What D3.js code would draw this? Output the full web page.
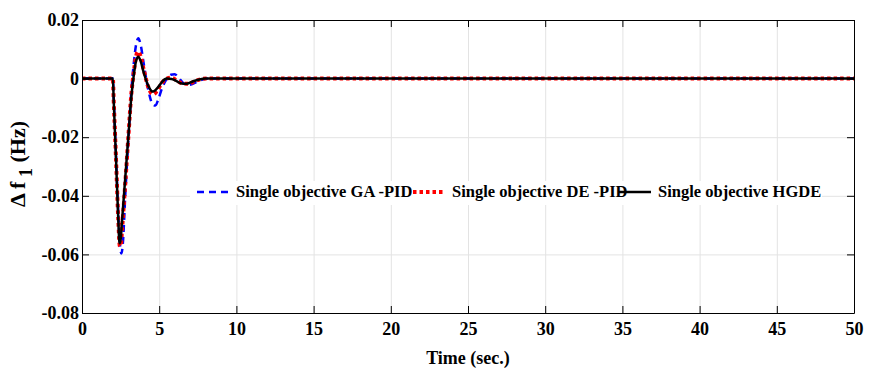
<!DOCTYPE html>
<html>
<head>
<meta charset="utf-8">
<script src="https://cdn.jsdelivr.net/npm/d3@7"></script>
<style>
  body { margin: 0; background: #fff; }
  svg text { font-family: 'Liberation Serif', 'Times New Roman', serif; font-weight: bold; }
</style>
</head>
<body>
<div id="chart"></div>
<script>
(function () {
  'use strict';

  var W = 869, H = 369,
      margin = {top: 20, right: 15, bottom: 56, left: 82},
      w = W - margin.left - margin.right,
      h = H - margin.top - margin.bottom,
      serif = "'Liberation Serif', 'Times New Roman', serif";

  var xTicks = [0, 5, 10, 15, 20, 25, 30, 35, 40, 45, 50];
  var yTicks = [0.02, 0, -0.02, -0.04, -0.06, -0.08];

  // GA-PID
  var tGA = [0, 2.0, 2.05, 2.2, 2.35, 2.45, 2.55, 2.65, 2.8, 3.0, 3.2, 3.35, 3.5, 3.65, 3.8, 4.0, 4.3, 4.55, 4.75, 4.95, 5.2, 5.5, 5.75, 6.0, 6.3, 6.6, 7.0, 7.4, 7.8, 8.2, 50];
  var vGA = [0, 0, -0.006, -0.026, -0.046, -0.056, -0.0597, -0.056, -0.040, -0.021, -0.004, 0.005, 0.0115, 0.0138, 0.0115, 0.005, -0.004, -0.0085, -0.0092, -0.007, -0.003, 0.0, 0.0013, 0.0015, 0.0, -0.0017, -0.0021, -0.0012, -0.0003, 0, 0];

  // DE-PID
  var tDE = [0, 2.0, 2.05, 2.2, 2.35, 2.45, 2.52, 2.6, 2.8, 3.0, 3.2, 3.35, 3.5, 3.62, 3.8, 4.0, 4.3, 4.5, 4.65, 4.85, 5.2, 5.5, 5.8, 6.1, 6.5, 6.9, 7.3, 7.7, 8.1, 50];
  var vDE = [0, 0, -0.007, -0.027, -0.048, -0.0572, -0.0565, -0.051, -0.036, -0.020, -0.005, 0.002, 0.0075, 0.0092, 0.0075, 0.003, -0.003, -0.005, -0.0053, -0.0042, -0.0013, 0.0, 0.0003, -0.0005, -0.0016, -0.0018, -0.0009, -0.0002, 0, 0];

  // HGDE
  var tHG = [0, 2.0, 2.05, 2.2, 2.35, 2.43, 2.5, 2.6, 2.8, 3.0, 3.2, 3.35, 3.5, 3.65, 3.8, 4.0, 4.3, 4.5, 4.6, 4.75, 4.95, 5.2, 5.5, 5.8, 6.1, 6.45, 6.75, 7.2, 7.6, 8.0, 50];
  var vHG = [0, 0, -0.007, -0.027, -0.048, -0.0562, -0.055, -0.048, -0.034, -0.020, -0.006, 0.001, 0.006, 0.0075, 0.006, 0.002, -0.0025, -0.0042, -0.0044, -0.0040, -0.0028, -0.001, 0.0, -0.0001, -0.0008, -0.0017, -0.0018, -0.0009, -0.0003, 0, 0];

  var seriesNames = ['Single objective GA -PID', 'Single objective DE -PID', 'Single objective HGDE'];

  var series = [
    {name: seriesNames[0], t: tGA, v: vGA, color: '#0000ff', width: 2.5, dash: '7,5'},
    {name: seriesNames[1], t: tDE, v: vDE, color: '#ff0000', width: 4, dash: '3.5,3'},
    {name: seriesNames[2], t: tHG, v: vHG, color: '#000000', width: 2.5, dash: null}
  ];

  var svg = d3.select('#chart').append('svg')
    .attr('width', W).attr('height', H);

  var g = svg.append('g')
    .attr('transform', 'translate(' + margin.left + ',' + margin.top + ')');

  var x = d3.scaleLinear().domain([0, 50]).range([0, w]);
  var y = d3.scaleLinear().domain([-0.08, 0.02]).range([h, 0]);

  var fmtY = function (d) {
    return d === 0 ? '0' : d3.format('.2f')(d).replace('\u2212', '-');
  };

  // grid
  var grid = g.append('g');
  grid.append('g')
    .attr('transform', 'translate(0,' + h + ')')
    .call(d3.axisBottom(x).tickValues(xTicks).tickSize(-h).tickFormat(''));
  grid.append('g')
    .call(d3.axisLeft(y).tickValues(yTicks).tickSize(-w).tickFormat(''));
  grid.selectAll('line').attr('stroke', '#e3e3e3').attr('stroke-width', 1);
  grid.selectAll('.domain').remove();

  // lines
  var line = d3.line()
    .x(function (d) { return x(d[0]); })
    .y(function (d) { return y(d[1]); })
    .curve(d3.curveMonotoneX);

  series.forEach(function (s) {
    g.append('path')
      .datum(d3.zip(s.t, s.v))
      .attr('d', line)
      .attr('fill', 'none')
      .attr('stroke', s.color)
      .attr('stroke-width', s.width)
      .attr('stroke-dasharray', s.dash);
  });

  // axes
  var tk = 7;
  var axes = g.append('g');
  axes.append('g')
    .attr('transform', 'translate(0,' + h + ')')
    .call(d3.axisBottom(x).tickValues(xTicks).tickSizeInner(-tk).tickSizeOuter(0).tickPadding(9));
  axes.append('g')
    .call(d3.axisLeft(y).tickValues(yTicks).tickFormat(fmtY).tickSizeInner(-tk).tickSizeOuter(0).tickPadding(3));
  axes.append('g')
    .call(d3.axisTop(x).tickValues(xTicks).tickSizeInner(-tk).tickSizeOuter(0).tickFormat(''));
  axes.append('g')
    .attr('transform', 'translate(' + w + ',0)')
    .call(d3.axisRight(y).tickValues(yTicks).tickSizeInner(-tk).tickSizeOuter(0).tickFormat(''));

  axes.selectAll('.domain, .tick line').attr('stroke', '#000').attr('stroke-width', 1);
  axes.selectAll('.tick text')
    .style('font-family', serif).style('font-weight', 'bold')
    .attr('font-size', 18).attr('fill', '#000');

  // axis labels
  svg.append('text')
    .attr('x', margin.left + w / 2).attr('y', 364)
    .attr('text-anchor', 'middle').attr('font-size', 18)
    .style('font-family', serif)
    .text('Time (sec.)');

  var yl = svg.append('text')
    .attr('transform', 'translate(25,164) rotate(-90)')
    .attr('text-anchor', 'middle').attr('font-size', 22)
    .style('font-family', serif);
  yl.append('tspan').text('\u0394   f');
  yl.append('tspan').attr('dy', 7).attr('font-size', 18).text(' 1');
  yl.append('tspan').attr('dy', -7).text('  (Hz)');

  // legend
  var legX = [115, 331, 537], legY = 172;
  var leg = g.append('g');
  leg.append('rect')
    .attr('x', 108).attr('y', legY - 11)
    .attr('width', 632).attr('height', 24)
    .attr('fill', '#fff');
  series.forEach(function (s, i) {
    leg.append('line')
      .attr('x1', legX[i]).attr('x2', legX[i] + 32)
      .attr('y1', legY).attr('y2', legY)
      .attr('stroke', s.color).attr('stroke-width', s.width)
      .attr('stroke-dasharray', s.dash);
    leg.append('text')
      .attr('x', legX[i] + 39).attr('y', legY + 5)
      .attr('font-size', 16.5).attr('fill', '#000')
      .style('font-family', serif)
      .text(s.name);
  });
}());
</script>
</body>
</html>
